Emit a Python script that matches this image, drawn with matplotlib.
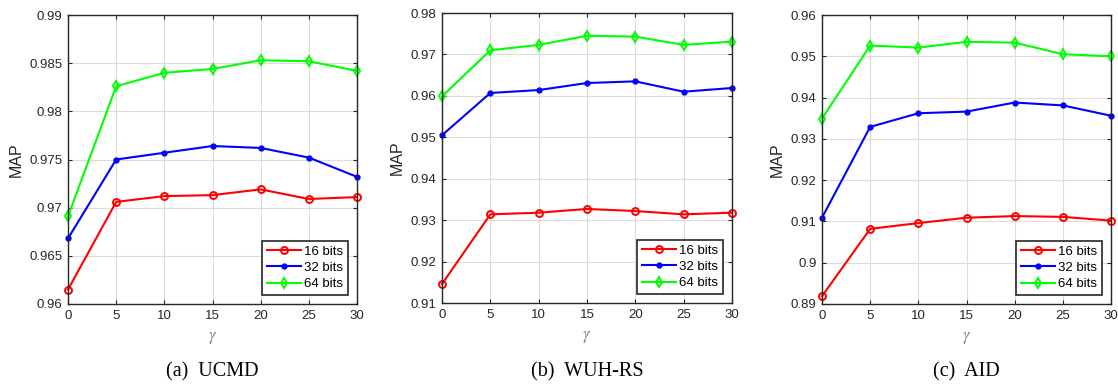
import matplotlib
matplotlib.use("Agg")
import matplotlib.pyplot as plt
from matplotlib.ticker import FuncFormatter

gamma = [0, 5, 10, 15, 20, 25, 30]
series_labels = ["16 bits", "32 bits", "64 bits"]

ucmd_16 = [0.9615, 0.9706, 0.9712, 0.9713, 0.9719, 0.9709, 0.9711]
ucmd_32 = [0.9668, 0.9750, 0.9757, 0.9764, 0.9762, 0.9752, 0.9732]
ucmd_64 = [0.9691, 0.9826, 0.9840, 0.9844, 0.9853, 0.9852, 0.9842]

wuh_16 = [0.9146, 0.9314, 0.9318, 0.9327, 0.9322, 0.9314, 0.9318]
wuh_32 = [0.9505, 0.9607, 0.9614, 0.9631, 0.9635, 0.9610, 0.9619]
wuh_64 = [0.9599, 0.9710, 0.9723, 0.9745, 0.9743, 0.9723, 0.9731]

aid_16 = [0.8919, 0.9082, 0.9096, 0.9109, 0.9113, 0.9111, 0.9102]
aid_32 = [0.9109, 0.9329, 0.9362, 0.9366, 0.9388, 0.9381, 0.9356]
aid_64 = [0.9349, 0.9526, 0.9521, 0.9535, 0.9533, 0.9505, 0.9500]

captions = ["(a)  UCMD", "(b)  WUH-RS", "(c)  AID"]
ylims = [(0.96, 0.99), (0.91, 0.98), (0.89, 0.96)]
ysteps = [0.005, 0.01, 0.01]
datasets = [(ucmd_16, ucmd_32, ucmd_64), (wuh_16, wuh_32, wuh_64), (aid_16, aid_32, aid_64)]

colors = ["#ff0000", "#0000ff", "#00ff00"]
markers = ["o", ".", "d"]

plt.rcParams['font.family'] = ['Liberation Sans', 'DejaVu Sans']
plt.rcParams['mathtext.fontset'] = 'stix'

W, H = 1118, 384
fig = plt.figure(figsize=(W / 100, H / 100), dpi=100)

# axes boxes in pixels: left, right, top, bottom
boxes = [(68, 357, 15, 304), (442, 732, 13, 303), (822, 1111, 15, 304)]

for i, ax_box in enumerate(boxes):
    l, r, t, b = ax_box
    ax = fig.add_axes([l / W, 1 - b / H, (r - l) / W, (b - t) / H])
    d16, d32, d64 = datasets[i]
    for vals, c, m, lab in zip((d16, d32, d64), colors, markers, series_labels):
        kw = dict(color=c, lw=1.5, marker=m, label=lab, clip_on=False, zorder=3)
        if m == "o":
            kw.update(markersize=5, markerfacecolor="none", markeredgewidth=1.4)
        elif m == ".":
            kw.update(markersize=7)
        else:
            kw.update(markersize=5, markerfacecolor="none", markeredgewidth=1.4)
        ax.plot(gamma, vals, **kw)
    y0, y1 = ylims[i]
    ax.set_xlim(0, 30)
    ax.set_ylim(y0, y1)
    ax.set_xticks(gamma)
    n = int(round((y1 - y0) / ysteps[i]))
    ax.set_yticks([y0 + k * ysteps[i] for k in range(n + 1)])
    ax.yaxis.set_major_formatter(FuncFormatter(lambda v, p: "{:g}".format(round(v, 4))))
    ax.grid(True, color="#dcdcdc", lw=0.8)
    ax.set_axisbelow(True)
    for s in ax.spines.values():
        s.set_color("#262626")
        s.set_linewidth(1.0)
        s.set_zorder(4)
    ax.tick_params(direction="in", top=True, right=True, length=3, width=0.8,
                   colors="#262626", labelsize=9.5, pad=4)
    ax.set_ylabel("MAP", fontsize=11.5, color="#262626", labelpad=4)
    ax.set_xlabel(r"$\gamma$", fontsize=12, color="#808080", labelpad=6)
    leg = ax.legend(loc="lower right", fontsize=9.5, frameon=True, fancybox=False,
                    edgecolor="#262626", framealpha=1, handlelength=2.6,
                    borderpad=0.35, labelspacing=0.3, handletextpad=0.2,
                    borderaxespad=0.7)
    leg.get_frame().set_linewidth(1.2)
    leg.set_zorder(5)
    cx = (l + r) / 2 / W
    fig.text(cx, 1 - 372 / H, captions[i], ha="center", va="center",
             fontsize=14.5, family="Liberation Serif", color="black")

fig.savefig("out.png", dpi=100)
